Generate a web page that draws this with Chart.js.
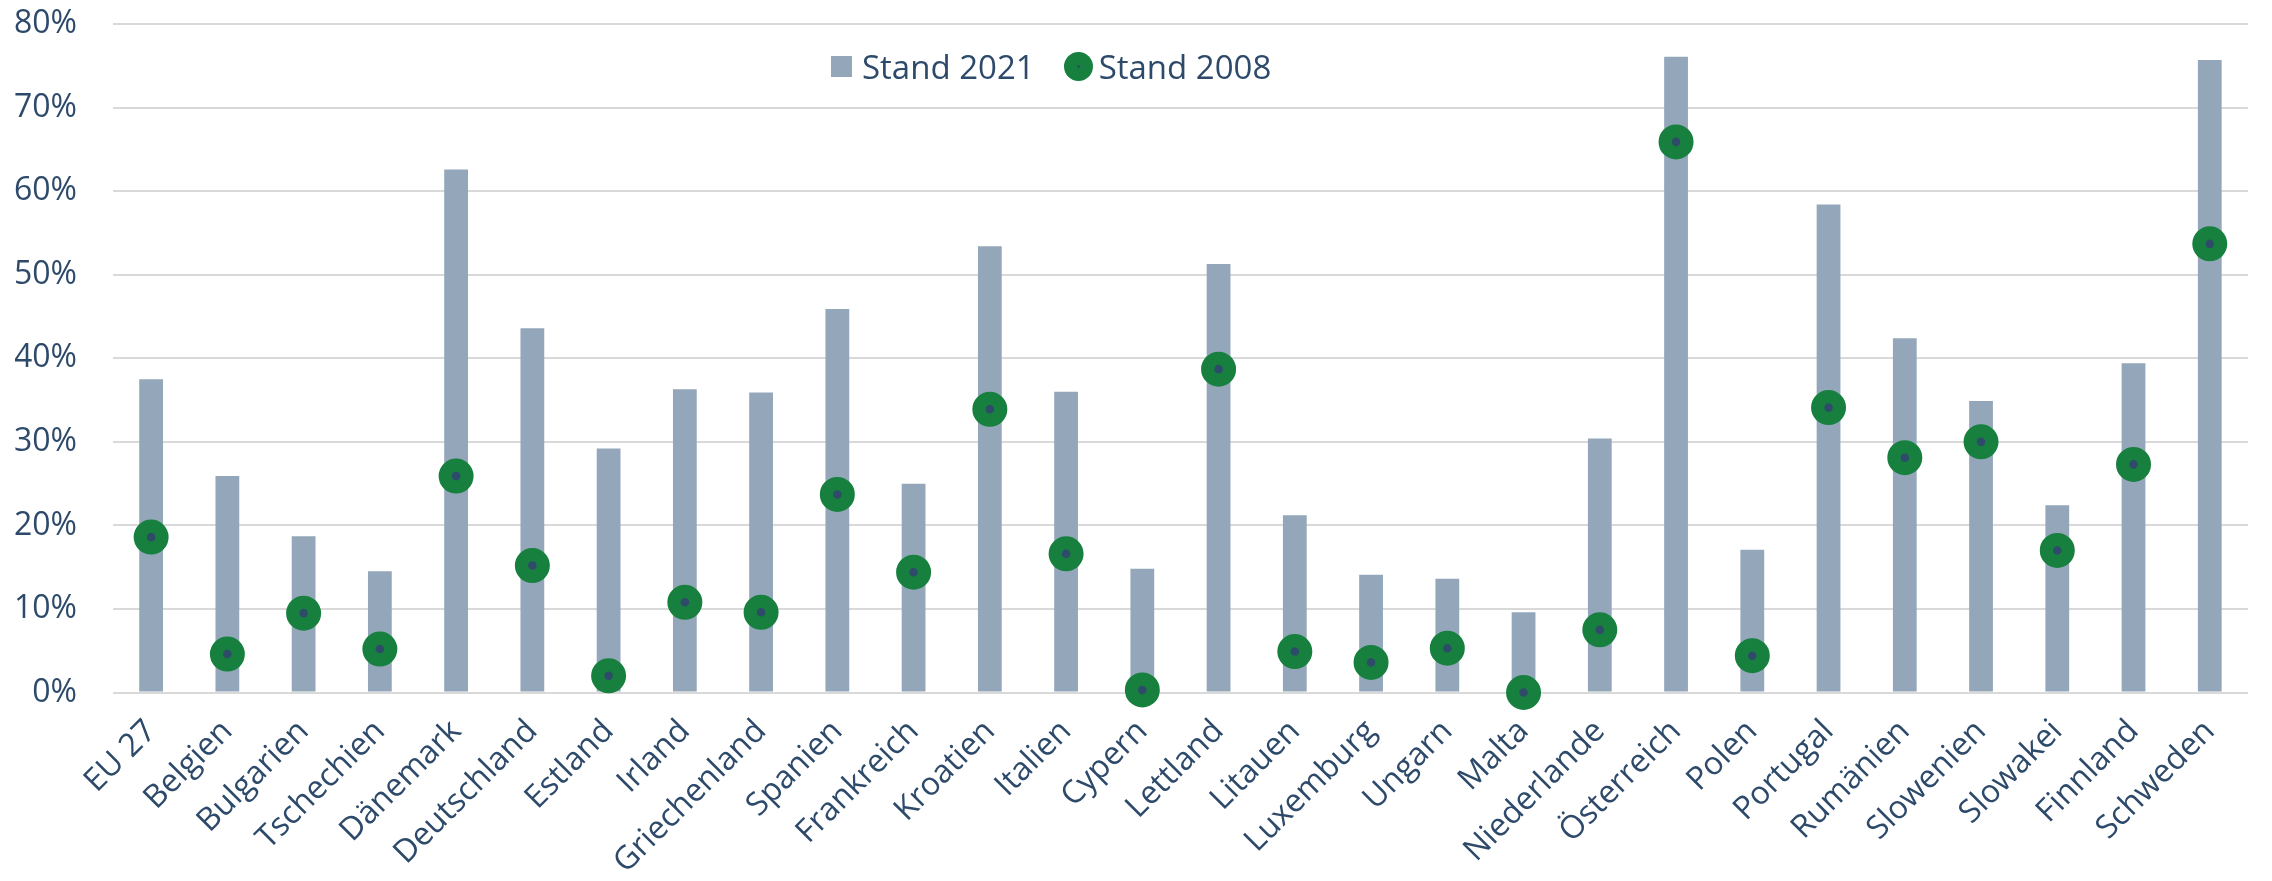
<!DOCTYPE html>
<html>
<head>
<meta charset="utf-8">
<script src="https://cdn.jsdelivr.net/npm/chart.js@4.4.1/dist/chart.umd.min.js"></script>
<style>
  html, body { margin: 0; padding: 0; background: #ffffff; }
  #wrap { position: relative; width: 2272px; height: 881px; }
  #wrap canvas { display: block; }
  #legend { position: absolute; left: 831px; top: 44px; display: flex; align-items: center;
            font-family: "Open Sans", sans-serif; font-size: 33px; color: #2E4A6B; white-space: nowrap; }
  .sq { display: inline-block; width: 21px; height: 21px; background: #94A7BA; margin-right: 10px; }
  .dot { display: inline-block; width: 29px; height: 29px; border-radius: 50%; background: #17803F;
         margin-left: 29px; margin-right: 6px; position: relative; }
  .dot::after { content: ""; position: absolute; left: 13px; top: 13px; width: 3px; height: 3px;
                border-radius: 50%; background: #2F4B6A; }
</style>
</head>
<body>
<div id="wrap">
  <canvas id="c" width="2272" height="881"></canvas>
  <div id="legend"><span class="sq"></span><span>Stand 2021</span><span class="dot"></span><span>Stand 2008</span></div>
</div>
<script>
const categories = ["EU 27", "Belgien", "Bulgarien", "Tschechien", "Dänemark", "Deutschland", "Estland",
  "Irland", "Griechenland", "Spanien", "Frankreich", "Kroatien", "Italien", "Cypern", "Lettland",
  "Litauen", "Luxemburg", "Ungarn", "Malta", "Niederlande", "Österreich", "Polen", "Portugal",
  "Rumänien", "Slowenien", "Slowakei", "Finnland", "Schweden"];
const stand2021 = [37.5, 25.9, 18.7, 14.5, 62.6, 43.6, 29.2, 36.3, 35.9, 45.9, 25.0, 53.4, 36.0, 14.8,
  51.3, 21.2, 14.1, 13.6, 9.6, 30.4, 76.1, 17.1, 58.4, 42.4, 34.9, 22.4, 39.4, 75.7];
const stand2008 = [18.6, 4.6, 9.5, 5.2, 25.9, 15.2, 2.0, 10.8, 9.6, 23.7, 14.4, 33.9, 16.6, 0.3,
  38.7, 4.9, 3.6, 5.3, 0.0, 7.5, 65.9, 4.4, 34.1, 28.1, 30.0, 17.0, 27.3, 53.7];
const seriesNames = ["Stand 2021", "Stand 2008"];
const yMin = 0, yMax = 80, yStep = 10;

const textColor = "#2E4A6B";
const fontFamily = "'Open Sans', sans-serif";

new Chart(document.getElementById("c"), {
  data: {
    labels: categories,
    datasets: [
      {
        type: "line",
        label: seriesNames[1],
        data: stand2008,
        showLine: false,
        pointRadius: 10.9,
        pointHoverRadius: 10.9,
        pointBorderWidth: 13.2,
        pointBorderColor: "#17803F",
        pointBackgroundColor: "#2F4B6A",
        clip: false,
        order: 0
      },
      {
        type: "bar",
        label: seriesNames[0],
        data: stand2021,
        backgroundColor: "#94A7BA",
        categoryPercentage: 1.0,
        barPercentage: 0.312,
        order: 1
      }
    ]
  },
  options: {
    responsive: false,
    animation: false,
    devicePixelRatio: 1,
    layout: { padding: { top: 24, right: 5, left: 15, bottom: 0 } },
    plugins: { legend: { display: false }, tooltip: { enabled: false } },
    scales: {
      x: {
        grid: { display: false, drawTicks: false },
        border: { display: false },
        ticks: {
          autoSkip: false, maxRotation: 45, minRotation: 45,
          color: textColor, padding: 20,
          font: { family: fontFamily, size: 32 }
        },
        afterFit: (s) => { s.height = 881 - 692.5; s.paddingLeft = 0; s.paddingRight = 0; }
      },
      y: {
        min: yMin, max: yMax,
        grid: { color: "#D9D9D9", lineWidth: 2, drawTicks: false },
        border: { display: false },
        ticks: {
          stepSize: yStep, color: textColor, padding: 36,
          font: { family: fontFamily, size: 32 },
          callback: (v) => v + "%"
        },
        afterFit: (s) => { s.width = 113 - 15; s.paddingTop = 0; s.paddingBottom = 0; }
      }
    }
  }
});
</script>
</body>
</html>
